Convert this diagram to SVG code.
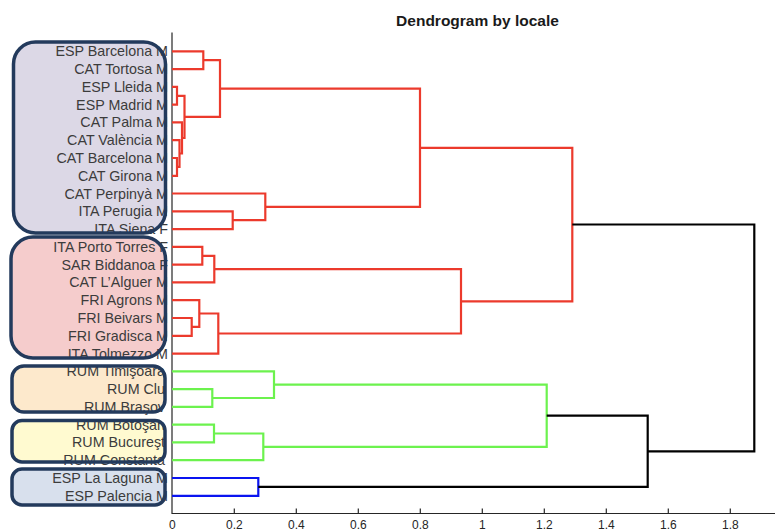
<svg xmlns="http://www.w3.org/2000/svg" width="775" height="531" viewBox="0 0 775 531">
<style>
.lbl{font-family:"Liberation Sans",Arial,sans-serif;font-size:14.3px;fill:#3c3c3c;text-anchor:end}
.tick{font-family:"Liberation Sans",Arial,sans-serif;font-size:12px;fill:#262626;text-anchor:middle}
.title{font-family:"Liberation Sans",Arial,sans-serif;font-size:15.5px;font-weight:bold;fill:#1a1a1a;text-anchor:middle}
.boxs{fill:none;stroke:#233a5c;stroke-width:3.5}
.ln{fill:none;stroke-width:2.2;stroke-linejoin:miter}
.r{stroke:#ec3a2c}.g{stroke:#6cf24e}.b{stroke:#0a14f0}.k{stroke:#000}
.ax{stroke:#262626;stroke-width:1.2;fill:none}
</style>
<rect width="775" height="531" fill="#fff"/>
<text class="title" x="477.5" y="26">Dendrogram by locale</text>

<g id="cluster-esp-cat">
<rect x="13.5" y="42" width="152" height="191" rx="22" fill="#dcd8e6"/>
<text class="lbl" x="168" y="56.3">ESP Barcelona M</text>
<text class="lbl" x="168" y="74.1">CAT Tortosa M</text>
<text class="lbl" x="168" y="91.9">ESP Lleida M</text>
<text class="lbl" x="168" y="109.6">ESP Madrid M</text>
<text class="lbl" x="168" y="127.4">CAT Palma M</text>
<text class="lbl" x="168" y="145.2">CAT València M</text>
<text class="lbl" x="168" y="163">CAT Barcelona M</text>
<text class="lbl" x="168" y="180.8">CAT Girona M</text>
<text class="lbl" x="168" y="198.5">CAT Perpinyà M</text>
<text class="lbl" x="168" y="216.3">ITA Perugia M</text>
<text class="lbl" x="168" y="234.1">ITA Siena F</text>
<rect class="boxs" x="13.5" y="42" width="152" height="191" rx="22"/>
</g>

<g id="cluster-ita-sar-fri">
<rect x="11" y="237" width="154.5" height="121" rx="22" fill="#f5cccc"/>
<text class="lbl" x="168" y="251.9">ITA Porto Torres F</text>
<text class="lbl" x="168" y="269.7">SAR Biddanoa F</text>
<text class="lbl" x="168" y="287.4">CAT L’Alguer M</text>
<text class="lbl" x="168" y="305.2">FRI Agrons M</text>
<text class="lbl" x="168" y="323">FRI Beivars M</text>
<text class="lbl" x="168" y="340.8">FRI Gradisca M</text>
<text class="lbl" x="168" y="358.6">ITA Tolmezzo M</text>
<rect class="boxs" x="11" y="237" width="154.5" height="121" rx="22"/>
</g>

<g id="cluster-rum-1">
<rect x="12" y="366" width="153" height="46" rx="12" fill="#fde9cc"/>
<text class="lbl" x="165" y="376.3">RUM Timişoara</text>
<text class="lbl" x="165" y="394.1">RUM Clu</text>
<text class="lbl" x="165" y="411.9">RUM Braşov</text>
<rect class="boxs" x="12" y="366" width="153" height="46" rx="12"/>
</g>

<g id="cluster-rum-2">
<rect x="12" y="420.5" width="153" height="41.5" rx="10" fill="#fffad0"/>
<text class="lbl" x="165" y="429.7">RUM Botoşan</text>
<text class="lbl" x="165" y="447.4">RUM Bucureşt</text>
<text class="lbl" x="165" y="465.2">RUM Constanta</text>
<rect class="boxs" x="12" y="420.5" width="153" height="41.5" rx="10"/>
</g>

<g id="cluster-esp-2">
<rect x="12" y="469" width="153" height="36" rx="10" fill="#d8e0ed"/>
<text class="lbl" x="168" y="483">ESP La Laguna M</text>
<text class="lbl" x="168" y="500.8">ESP Palencia M</text>
<rect class="boxs" x="12" y="469" width="153" height="36" rx="10"/>
</g>

<g id="axes">
<path class="ax" d="M172 32.5 V513.5 H775"/>
<path class="ax" d="M234.3 513.5v-5 M296.3 513.5v-5 M358.3 513.5v-5 M420.3 513.5v-5 M482.3 513.5v-5 M544.3 513.5v-5 M606.3 513.5v-5 M668.3 513.5v-5 M730.3 513.5v-5"/>
<text class="tick" x="172.3" y="529">0</text>
<text class="tick" x="234.3" y="529">0.2</text>
<text class="tick" x="296.3" y="529">0.4</text>
<text class="tick" x="358.3" y="529">0.6</text>
<text class="tick" x="420.3" y="529">0.8</text>
<text class="tick" x="482.3" y="529">1</text>
<text class="tick" x="544.3" y="529">1.2</text>
<text class="tick" x="606.3" y="529">1.4</text>
<text class="tick" x="668.3" y="529">1.6</text>
<text class="tick" x="730.3" y="529">1.8</text>
</g>

<g id="connectors">
<path class="ln r" d="M172 51.3 H203.3 V69.1 H172"/>
<path class="ln r" d="M172 86.9 H177 V104.6 H172"/>
<path class="ln r" d="M172 158 H177 V175.8 H172"/>
<path class="ln r" d="M172 140.2 H179.5 V166.9 H177"/>
<path class="ln r" d="M172 122.4 H182 V153.5 H179.5"/>
<path class="ln r" d="M177 95.8 H184.5 V138 H182"/>
<path class="ln r" d="M203.3 60.2 H220 V116.9 H184.5"/>
<path class="ln r" d="M172 211.3 H232.7 V229.1 H172"/>
<path class="ln r" d="M172 193.5 H265.3 V220.2 H232.7"/>
<path class="ln r" d="M220 88.6 H420 V206.9 H265.3"/>
<path class="ln r" d="M172 246.9 H202.3 V264.7 H172"/>
<path class="ln r" d="M202.3 255.8 H214.3 V282.4 H172"/>
<path class="ln r" d="M172 318 H191.7 V335.8 H172"/>
<path class="ln r" d="M172 300.2 H199.3 V326.9 H191.7"/>
<path class="ln r" d="M199.3 313.5 H218.3 V353.6 H172"/>
<path class="ln r" d="M214.3 269.1 H461 V333.5 H218.3"/>
<path class="ln r" d="M420 147.8 H572.3 V301.3 H461"/>
<path class="ln g" d="M172 389.1 H212.3 V406.9 H172"/>
<path class="ln g" d="M172 371.3 H274 V398 H212.3"/>
<path class="ln g" d="M172 424.7 H214 V442.4 H172"/>
<path class="ln g" d="M214 433.5 H263.3 V460.2 H172"/>
<path class="ln g" d="M274 384.6 H546.7 V446.8 H263.3"/>
<path class="ln b" d="M172 478 H258.3 V495.8 H172"/>
<path class="ln k" d="M546.7 415.7 H647.7 V486.9 H258.3"/>
<path class="ln k" d="M572.3 224.5 H754.3 V451.3 H647.7"/>
</g>
</svg>
